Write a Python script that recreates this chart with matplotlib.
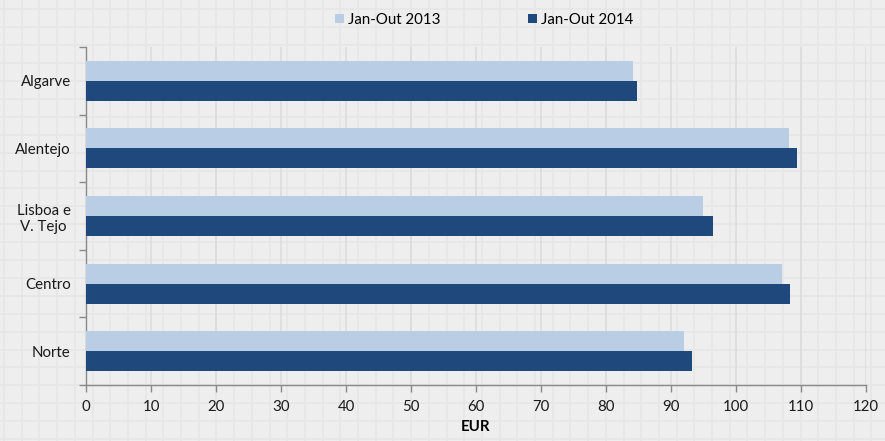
import numpy as np
import matplotlib.pyplot as plt

regions = ["Norte", "Centro", "Lisboa e\nV. Tejo", "Alentejo", "Algarve"]
jan_out_2013 = [92.0, 107.1, 94.9, 108.2, 84.2]
jan_out_2014 = [93.2, 108.3, 96.5, 109.4, 84.8]
x_ticks = list(range(0, 121, 10))

light = "#b9cde5"
dark = "#1f497d"
axis_gray = "#898989"

plt.rcParams["font.family"] = ["Lato", "DejaVu Sans"]

fig = plt.figure(figsize=(8.85, 4.41), dpi=100)
fig.patch.set_facecolor("#eeeeee")

# background texture: faint squared grid over the whole picture
bg = fig.add_axes([0, 0, 1, 1], zorder=-1)
bg.set_xlim(0, 885)
bg.set_ylim(0, 441)
bg.set_facecolor("#eeeeee")
bg.set_xticks(np.arange(4, 885, 17.7))
bg.set_yticks(np.arange(2, 441, 17.9))
bg.grid(True, color="#e6e6e6", linewidth=1.2)
bg.tick_params(length=0, labelbottom=False, labelleft=False)
for s in bg.spines.values():
    s.set_visible(False)

ax = fig.add_axes([0.0972, 0.127, 0.8814, 0.7664])
ax.set_facecolor("none")

y = np.arange(len(regions))
h = 0.296
ax.barh(y + h / 2, jan_out_2013, height=h, color=light, label="Jan-Out 2013", zorder=3)
ax.barh(y - h / 2, jan_out_2014, height=h, color=dark, label="Jan-Out 2014", zorder=3)

ax.set_xlim(0, 120)
ax.set_ylim(-0.5, len(regions) - 0.5)
ax.set_xticks(x_ticks)
ax.set_yticks(y)
ax.set_yticklabels(regions)
for lab in ax.get_yticklabels():
    lab.set_multialignment("center")
ax.set_yticks(np.arange(-0.5, len(regions), 1), minor=True)

ax.xaxis.grid(True, color="#dcdcdc", linewidth=1.2, zorder=0)
ax.set_axisbelow(True)

ax.tick_params(axis="y", which="major", length=0, pad=11, labelsize=10.8, labelcolor="#1a1a1a")
ax.tick_params(axis="y", which="minor", length=5, color=axis_gray, width=1)
ax.tick_params(axis="x", length=5, color=axis_gray, width=1, pad=6, labelsize=10.8, labelcolor="#1a1a1a")

for side in ["top", "right"]:
    ax.spines[side].set_visible(False)
for side in ["left", "bottom"]:
    ax.spines[side].set_color(axis_gray)
    ax.spines[side].set_linewidth(1)

ax.set_xlabel("EUR", fontweight="bold", fontsize=10.8, labelpad=4)

fig.legend(loc="center", bbox_to_anchor=(0.547, 0.955), ncol=2, frameon=False,
           handlelength=0.6, handleheight=0.6, handletextpad=0.3,
           columnspacing=5.8, fontsize=10.8)

fig.savefig("out.png", dpi=100, facecolor=fig.get_facecolor())
